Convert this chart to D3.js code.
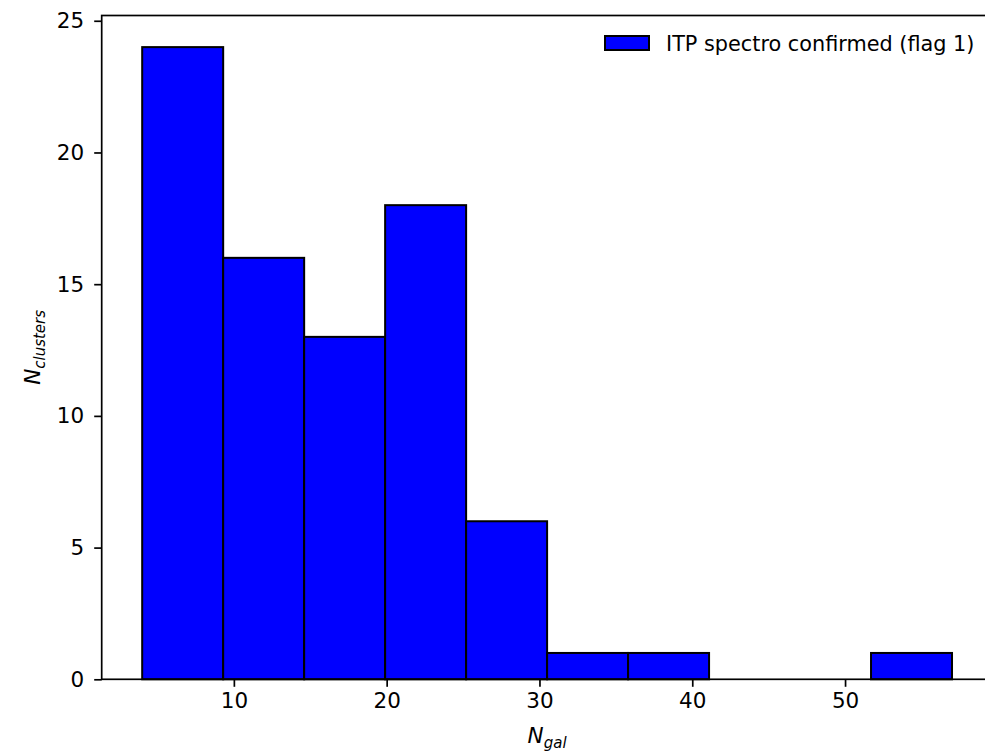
<!DOCTYPE html>
<html>
<head>
<meta charset="utf-8">
<script src="https://cdn.jsdelivr.net/npm/d3@7"></script>
<style>
html, body { margin: 0; padding: 0; background: #fff; }
svg { display: block; }
text { font-family: "DejaVu Sans", sans-serif; fill: #000; }
</style>
</head>
<body>
<svg id="chart" width="985" height="754"></svg>
<script>
// Data
const binEdges = [4, 9.3, 14.6, 19.9, 25.2, 30.5, 35.8, 41.1, 46.4, 51.7, 57];
const counts = [24, 16, 13, 18, 6, 1, 1, 0, 0, 1];
const xTicks = [10, 20, 30, 40, 50];
const yTicks = [0, 5, 10, 15, 20, 25];
const legendLabel = "ITP spectro confirmed (flag 1)";

const svg = d3.select("#chart");
const L = 101.7, R = 992.5, T = 15.5, B = 679.3;

const x = d3.scaleLinear().domain([1.35, 59.65]).range([L, R]);
const y = d3.scaleLinear().domain([0, 25.2]).range([B, T]);

const bins = counts.map((c, i) => ({ x0: binEdges[i], x1: binEdges[i + 1], c }));

// bars
svg.append("g").selectAll("rect").data(bins).join("rect")
  .attr("x", d => x(d.x0))
  .attr("y", d => y(d.c))
  .attr("width", d => x(d.x1) - x(d.x0))
  .attr("height", d => y(0) - y(d.c))
  .attr("fill", "#0000ff")
  .attr("stroke", "#000")
  .attr("stroke-width", 2);

// axes
const tickFont = "21.5px";
const xAxis = d3.axisBottom(x).tickValues(xTicks).tickSize(7.5).tickPadding(6).tickFormat(d3.format("d"));
const gx = svg.append("g").attr("transform", `translate(0,${B})`).call(xAxis);
gx.select(".domain").remove();
gx.selectAll(".tick line").attr("stroke", "#000").attr("stroke-width", 1.7);
gx.selectAll(".tick text").style("font-size", tickFont).attr("font-family", "DejaVu Sans");

const yAxis = d3.axisLeft(y).tickValues(yTicks).tickSize(7.5).tickPadding(10).tickFormat(d3.format("d"));
const gy = svg.append("g").attr("transform", `translate(${L},0)`).call(yAxis);
gy.select(".domain").remove();
gy.selectAll(".tick line").attr("stroke", "#000").attr("stroke-width", 1.7);
gy.selectAll(".tick text").style("font-size", tickFont).attr("font-family", "DejaVu Sans");

// spines
const sp = svg.append("g").attr("stroke", "#000").attr("stroke-width", 1.7).attr("fill", "none");
sp.append("rect").attr("x", L).attr("y", T).attr("width", R - L).attr("height", B - T);

// axis labels
const xl = svg.append("text").attr("x", (L + R) / 2).attr("y", 743).attr("text-anchor", "middle")
  .style("font-size", "21.5px");
xl.append("tspan").attr("font-style", "italic").text("N");
xl.append("tspan").attr("font-style", "italic").style("font-size", "15px").attr("dy", 5).text("gal");

const yl = svg.append("text").attr("transform", `translate(40,${(T + B) / 2}) rotate(-90)`)
  .attr("text-anchor", "middle").style("font-size", "21.5px");
yl.append("tspan").attr("font-style", "italic").text("N");
yl.append("tspan").attr("font-style", "italic").style("font-size", "15px").attr("dy", 5).text("clusters");

// legend
const lg = svg.append("g");
lg.append("rect").attr("x", 605).attr("y", 36).attr("width", 44).attr("height", 14)
  .attr("fill", "#0000ff").attr("stroke", "#000").attr("stroke-width", 2);
lg.append("text").attr("x", 666).attr("y", 50.5).style("font-size", "20.8px").text(legendLabel);
</script>
</body>
</html>
